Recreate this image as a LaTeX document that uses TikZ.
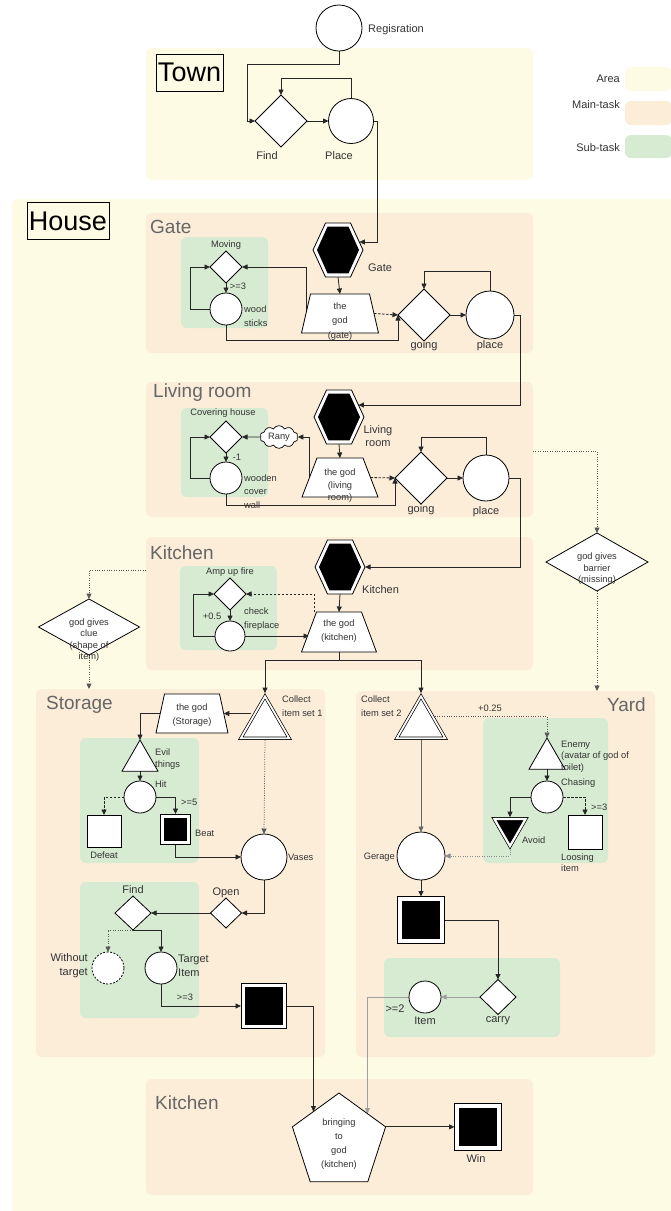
\documentclass[tikz,border=0pt]{standalone}
\usepackage{fontspec}
\setmainfont{Liberation Sans}
\usetikzlibrary{arrows.meta,shapes.geometric,shapes.symbols,calc}
\pgfdeclarelayer{bg}
\pgfdeclarelayer{links}
\pgfsetlayers{bg,links,main}

\definecolor{areaC}{HTML}{FDFBE3}
\definecolor{mainC}{HTML}{FCEDD9}
\definecolor{subC}{HTML}{D6EBD1}
\definecolor{txtC}{HTML}{333333}
\definecolor{ttlC}{HTML}{666666}

% black hexagon with a white ring, drawn inside a hexnode box
\newcommand\drawhex[1]{%
  \draw[line width=0.8pt, fill=white] ($(#1)+(-25,0)$) -- ($(#1)+(-12.5,-27)$) -- ($(#1)+(12.5,-27)$) -- ($(#1)+(25,0)$) -- ($(#1)+(12.5,27)$) -- ($(#1)+(-12.5,27)$) -- cycle;
  \fill[black] ($(#1)+(-21,0)$) -- ($(#1)+(-10.5,-23.3)$) -- ($(#1)+(10.5,-23.3)$) -- ($(#1)+(21,0)$) -- ($(#1)+(10.5,23.3)$) -- ($(#1)+(-10.5,23.3)$) -- cycle;
}
% trapezoid around a node: half bottom width, half top width, half height
\newcommand\drawtrap[4]{%
  \draw[line width=0.8pt, fill=white] ($(#1)+(-#2,#4)$) -- ($(#1)+(#2,#4)$) -- ($(#1)+(#3,-#4)$) -- ($(#1)+(-#3,-#4)$) -- cycle;
}

\begin{document}
\begin{tikzpicture}[x=1pt,y=-1pt,
  zone/.style={rectangle, rounded corners=6pt, inner sep=0, outer sep=0},
  area/.style={zone, fill=areaC},
  maintask/.style={zone, fill=mainC},
  subtask/.style={zone, fill=subC},
  conn/.style={draw=black!85, line width=0.8pt, -{Triangle[length=5.5pt,width=5pt]}},
  dashconn/.style={conn, dash pattern=on 2.5pt off 1.5pt},
  dotconn/.style={conn, draw=black!65, line width=0.75pt, dash pattern=on 1pt off 1.4pt},
  grayconn/.style={conn, draw=gray!75},
  circ/.style={circle, draw, line width=0.8pt, fill=white, inner sep=0, outer sep=0},
  diam/.style={diamond, draw, line width=0.8pt, fill=white, inner sep=0, outer sep=0},
  trapnode/.style={rectangle, inner sep=0, outer sep=0},
  tri/.style={regular polygon, regular polygon sides=3, draw, line width=0.8pt, fill=white, inner sep=0, outer sep=0},
  col/.style={tri, line width=0.7pt, double=white, double distance=1.8pt, minimum size=56, outer sep=1.6pt},
  avoidtri/.style={tri, shape border rotate=180, minimum size=36, line width=0.7pt, double=white, double distance=2.2pt, fill=black, outer sep=1.8pt},
  sq/.style={rectangle, draw, line width=0.8pt, fill=white, inner sep=0, outer sep=0},
  blacksq/.style={rectangle, draw=black, line width=0.8pt, double=white, double distance=3.5pt, fill=black, inner sep=0, outer sep=2.5pt},
  pent/.style={regular polygon, regular polygon sides=5, minimum size=98, draw, line width=0.8pt, fill=white, inner sep=0, outer sep=0},
  hexnode/.style={rectangle, minimum width=50, minimum height=54, inner sep=0, outer sep=0},
  lblS/.style={font=\fontsize{9.3}{#1}\selectfont, text=txtC, inner sep=0},
  lblS/.default=12,
  lblM/.style={font=\fontsize{11}{#1}\selectfont, text=txtC, inner sep=0},
  lblM/.default=13,
  ttl/.style={font=\fontsize{19}{22}\selectfont, text=ttlC, inner sep=0, anchor=west},
  bigbox/.style={draw, line width=0.7pt, font=\fontsize{27}{30}\selectfont, text=black, inner xsep=2pt, inner ysep=0pt, minimum height=37}
]
\useasboundingbox (0,0) rectangle (670,1211);

% ---------- areas ----------
\begin{pgfonlayer}{bg}
\fill[white] (0,0) rectangle (670,1211);
\node[area, minimum width=387, minimum height=132] (townArea) at (339.5,114) {};
\node[area, minimum width=662, minimum height=1020] (houseArea) at (343,709) {};
\node[maintask, minimum width=387, minimum height=140] (gateArea) at (339.5,283) {};
\node[maintask, minimum width=387, minimum height=135] (livingArea) at (339.5,449.5) {};
\node[maintask, minimum width=387, minimum height=133] (kitchenArea) at (339.5,603.5) {};
\node[maintask, minimum width=289, minimum height=368] (storageArea) at (180.5,873) {};
\node[maintask, minimum width=299, minimum height=366] (yardArea) at (505.5,874) {};
\node[maintask, minimum width=387, minimum height=116] (kitchenEndArea) at (339.5,1137) {};
\node[subtask, minimum width=87, minimum height=91] (subMoving) at (224.5,282.5) {};
\node[subtask, minimum width=87, minimum height=89] (subCover) at (224.5,452.5) {};
\node[subtask, minimum width=97, minimum height=84] (subFire) at (228.5,608) {};
\node[subtask, minimum width=119, minimum height=125] (subEvil) at (139.5,800.5) {};
\node[subtask, minimum width=119, minimum height=136] (subFind) at (139.5,950) {};
\node[subtask, minimum width=125, minimum height=145] (subEnemy) at (545.5,790.5) {};
\node[subtask, minimum width=176, minimum height=79] (subCarry) at (472,997.5) {};
% legend
\node[area, minimum width=47, minimum height=24] (lgArea) at (648.5,79) {};
\node[maintask, minimum width=47, minimum height=24] (lgMain) at (648.5,113) {};
\node[subtask, minimum width=47, minimum height=23] (lgSub) at (648.5,146.5) {};
\end{pgfonlayer}

\node[lblM, anchor=east] (lgAreaT) at (620,79) {Area};
\node[lblM, anchor=east] (lgMainT) at (620,105) {Main-task};
\node[lblM, anchor=east] (lgSubT) at (620,148) {Sub-task};

% ---------- Town ----------
\node[bigbox] (townT) at (189.5,72.5) {Town};
\node[circ, minimum size=46] (reg) at (339,28) {};
\node[lblM, anchor=west] (regT) at (368,30) {Regisration};
\node[diam, minimum width=52, minimum height=52] (findT) at (281,121) {};
\node[circ, minimum size=45] (placeT) at (351,121) {};
\node[lblM] (findTL) at (267,156) {Find};
\node[lblM] (placeTL) at (339,156) {Place};

% ---------- House ----------
\node[bigbox] (houseT) at (68,221) {House};

% Gate
\node[ttl] (gateTtl) at (150,227) {Gate};
\node[lblS] (movL) at (226,245) {Moving};
\node[diam, minimum width=32, minimum height=32] (movD) at (226,267) {};
\node[lblS] (ge3a) at (238,286) {>=3};
\node[circ, minimum size=32] (woodC) at (226,309) {};
\node[lblS=14, anchor=west, align=left] (woodL) at (244,316) {wood\\sticks};
\node[hexnode] (gateHex) at (338,250) {};
\drawhex{gateHex}
\node[lblM] (gateHL) at (380,268) {Gate};
\node[trapnode, minimum width=68, minimum height=39] (godG) at (340,313.5) {};
\drawtrap{godG}{38.5}{29.5}{19.5}
\node[lblS=14.5, align=center] (godGL) at (340,321.5) {the\\god\\(gate)};
\node[diam, minimum width=52, minimum height=52] (goingG) at (424,315) {};
\node[lblM] (goingGL) at (424,346) {going};
\node[circ, minimum size=48] (placeG) at (490,315) {};
\node[lblM] (placeGL) at (490,346) {place};

% Living room
\node[ttl] (livTtl) at (153,393) {Living room};
\node[lblS] (covL) at (223,413) {Covering house};
\node[diam, minimum width=32, minimum height=32] (covD) at (226,437) {};
\node[lblS] (m1) at (237,457) {-1};
\node[circ, minimum size=32] (wallC) at (226,478) {};
\node[lblS=13.5, anchor=west, align=left] (wallL) at (244,491.5) {wooden\\cover\\wall};
\node[cloud, cloud puffs=10, cloud puff arc=120, aspect=1.8, draw, line width=0.7pt, fill=white, inner sep=0.5pt, minimum width=38, minimum height=22, font=\fontsize{9.3}{11}\selectfont, text=txtC] (rany) at (279,437) {Rany};
\node[hexnode] (livHex) at (339,417) {};
\drawhex{livHex}
\node[lblM=13, align=center] (livHL) at (378,436.5) {Living\\room};
\node[trapnode, minimum width=61, minimum height=39] (godL) at (340,477.5) {};
\drawtrap{godL}{38}{23}{19.5}
\node[lblS=12.5, align=center] (godLL) at (340,486) {the god\\(living\\room)};
\node[diam, minimum width=52, minimum height=52] (goingL) at (421,478) {};
\node[lblM] (goingLL) at (421,510) {going};
\node[circ, minimum size=46] (placeL) at (486,478) {};
\node[lblM] (placeLL) at (486,512) {place};

% Kitchen
\node[ttl] (kitTtl) at (150,553) {Kitchen};
\node[lblS] (ampL) at (230,572) {Amp up fire};
\node[diam, minimum width=32, minimum height=32] (ampD) at (230,594) {};
\node[lblS] (p05) at (212,616) {+0.5};
\node[circ, minimum size=30] (fireC) at (230,636) {};
\node[lblS=14, anchor=west, align=left] (fireL) at (244,619) {check\\fireplace};
\node[hexnode] (kitHex) at (340,567) {};
\drawhex{kitHex}
\node[lblM, anchor=west] (kitHL) at (362,590) {Kitchen};
\node[trapnode, minimum width=60, minimum height=40] (godK) at (339,632) {};
\drawtrap{godK}{37.5}{22.5}{20}
\node[lblS=14, align=center] (godKL) at (339,631) {the god\\(kitchen)};
\node[diam, minimum width=101, minimum height=56] (clue) at (89,627) {};
\node[lblS=11.3, align=center] (clueL) at (89,640) {god gives\\clue\\(shape of\\item)};
\node[diam, minimum width=102, minimum height=58] (barrier) at (597,562) {};
\node[lblS=11.5, align=center] (barL) at (597,569) {god gives\\barrier\\(missing)};

% Storage
\node[ttl] (stoTtl) at (46,705) {Storage};
\node[col] (col1) at (265,724.3) {};
\node[lblS=14, anchor=west, align=left] (col1L) at (282,706) {Collect\\item set 1};
\node[trapnode, minimum width=63.5, minimum height=39] (godS) at (192,713.5) {};
\drawtrap{godS}{36}{27.5}{19.5}
\node[lblS=14, align=center] (godSL) at (192,715) {the god\\(Storage)};
\node[tri, minimum size=41.6] (evilT) at (140,760.8) {};
\node[lblS=12, anchor=west, align=left] (evilL) at (155,759) {Evil\\things};
\node[circ, minimum size=32] (hitC) at (140,797) {};
\node[lblS, anchor=west] (hitL) at (155,784) {Hit};
\node[sq, minimum width=34, minimum height=32] (defeat) at (104,831) {};
\node[lblS] (defeatL) at (104,855) {Defeat};
\node[lblS, anchor=west] (ge5) at (181,802) {>=5};
\node[blacksq, minimum size=26] (beat) at (175.5,829.5) {};
\node[lblS, anchor=west] (beatL) at (195,833) {Beat};
\node[circ, minimum size=46] (vases) at (264,857) {};
\node[lblS, anchor=west] (vasesL) at (288,857) {Vases};
\node[lblM] (openL) at (226,893) {Open};
\node[diam, minimum width=31, minimum height=30] (openD) at (226,913) {};
\node[lblM] (findL) at (133,890) {Find};
\node[diam, minimum width=36, minimum height=34] (findD) at (133,913) {};
\node[circ, minimum size=32, dash pattern=on 2pt off 1.5pt] (noTarget) at (108,968) {};
\node[circ, minimum size=32] (target) at (161,968) {};
\node[lblM=14, anchor=east, align=right] (noTL) at (88,966) {Without\\target};
\node[lblM=14, anchor=west, align=left] (targetL) at (178,966) {Target\\Item};
\node[lblS] (ge3b) at (185,997) {>=3};
\node[blacksq, minimum size=41] (item1) at (264,1006) {};

% Yard
\node[ttl, anchor=east] (yardTtl) at (646,705) {Yard};
\node[col] (col2) at (421,724.3) {};
\node[lblS=14, anchor=west, align=left] (col2L) at (361,706) {Collect\\item set 2};
\node[lblS] (p025) at (490,708) {+0.25};
\node[tri, minimum size=41.6] (enemyT) at (547,758.8) {};
\node[lblS=11.5, anchor=west, align=left] (enemyL) at (561,756.5) {Enemy\\(avatar of god of\\toilet)};
\node[circ, minimum size=32] (chaseC) at (547,797) {};
\node[lblS, anchor=west] (chaseL) at (561,783) {Chasing};
\node[avoidtri] (avoid) at (510,828) {};
\node[lblS, anchor=west] (avoidL) at (522,840) {Avoid};
\node[lblS, anchor=west] (ge3c) at (591,807) {>=3};
\node[sq, minimum size=34] (loose) at (585,832) {};
\node[lblS=11, anchor=west, align=left] (looseL) at (561,862.5) {Loosing\\item};
\node[circ, minimum size=48] (gerage) at (421,856) {};
\node[lblS, anchor=east] (gerageL) at (395,857) {Gerage};
\node[blacksq, minimum size=42] (item2) at (421,920) {};
\node[diam, minimum width=36, minimum height=35] (carryD) at (498,997) {};
\node[lblM] (carryL) at (498,1021) {carry};
\node[circ, minimum size=32] (itemC) at (425,997) {};
\node[lblM] (itemL) at (425,1021) {Item};
\node[lblM] (ge2) at (395,1009) {>=2};

% Final kitchen
\node[ttl] (kitEndTtl) at (155,1103) {Kitchen};
\node[pent] (bring) at (339,1142) {};
\node[lblS=14, align=center] (bringL) at (339,1144) {bringing\\to\\god\\(kitchen)};
\node[blacksq, minimum size=42] (win) at (478,1127) {};
\node[lblM] (winL) at (476,1158) {Win};

% ---------- connectors ----------
\begin{pgfonlayer}{links}
% town
\draw[conn] (reg.south) -- ++(0,13) -| ([xshift=-8pt]findT.west) -- (findT.west);
\draw[conn] (findT) -- (placeT);
\draw[conn] (placeT.north) -- ++(0,-20) -| (findT.north);
\draw[conn] (placeT.east) -- ++(4,0) |- ($(gateHex)+(21.3,-8)$);
% gate
\draw[conn] (woodC.west) -- ++(-20,0) |- (movD.west);
\draw[conn] (movD.south) -- (woodC.north);
\draw[conn] (godG.west) |- (movD.east);
\draw[dashconn] (godG.east) -- (goingG.west);
\draw[conn] (woodC.south) -- ++(0,15) -| (goingG.west);
\draw[conn] (gateHex.south) -- (godG.north);
\draw[conn] (goingG) -- (placeG);
\draw[conn] (placeG.north) -- ++(0,-20) -| (goingG.north);
\draw[conn] (placeG.east) -- ++(6,0) |- ($(livHex)+(19.4,-12)$);
% living room
\draw[conn] (wallC.west) -- ++(-20,0) |- (covD.west);
\draw[conn] (covD.south) -- (wallC.north);
\draw[conn] (rany.west) -- (covD.east);
\draw[conn] (godL.west) |- (rany.east);
\draw[dashconn] (godL.east) -- (goingL.west);
\draw[conn] (wallC.south) -- ++(0,11) -| (goingL.west);
\draw[conn] (livHex.south) -- (godL.north);
\draw[conn] (goingL) -- (placeL);
\draw[conn] (placeL.north) -- ++(0,-18) -| (goingL.north);
\draw[conn] (placeL.east) -- ++(11,0) |- (kitHex.east);
\draw[dotconn] ([yshift=-69pt]livingArea.north east) -| (barrier.north);
\draw[dotconn] (barrier.south) -- (barrier.south |- yardArea.north);
% kitchen
\draw[conn] (fireC.west) -- ++(-22,0) |- (ampD.west);
\draw[conn] (ampD.south) -- (fireC.north);
\draw[conn] (fireC.east) -- (fireC.east -| godK.west);
\draw[dashconn] ([xshift=5pt]godK.north west) |- (ampD.east);
\draw[conn] (kitHex.south) -- (godK.north);
\draw[conn] (godK.south) -- ++(0,8) -| (col1.north);
\draw[conn] (godK.south) -- ++(0,8) -| (col2.north);
\draw[dotconn] ([yshift=-33pt]kitchenArea.north west) -| (clue.north);
\draw[dotconn] (clue.south) -- (clue.south |- storageArea.north);
% storage
\draw[conn] (col1.150 |- godS.east) -- (godS.east);
\draw[conn] (godS.west) -| (evilT.north);
\draw[conn] (evilT.south) -- (hitC.north);
\draw[dashconn] (hitC.west) -| (defeat.north);
\draw[conn] (hitC.east) -| (beat.north);
\draw[conn] (beat.south) |- (vases.west);
\draw[dotconn] (col1.south) -- (vases.north);
\draw[conn] (vases.south) |- (openD.east);
\draw[conn] (openD) -- (findD);
\draw[dotconn] (findD.south) -| (noTarget.north);
\draw[conn] (findD.south) -| (target.north);
\draw[conn] (target.south) |- (item1.west);
\draw[conn] (item1.east) -| (bring.130);
% yard
\draw[dotconn] (col2.30) -| (enemyT.north);
\draw[conn] (enemyT.south) -- (chaseC.north);
\draw[conn] (chaseC.west) -| (avoid.north);
\draw[dashconn] (chaseC.east) -| (loose.north);
\draw[grayconn, draw=black!60, line width=0.7pt] (col2.south) -- (gerage.north);
\draw[dotconn, draw=black!45] (avoid.south) |- (gerage.east);
\draw[conn] (gerage.south) -- (item2.north);
\draw[conn] (item2.east) -| (carryD.north);
\draw[grayconn] (carryD) -- (itemC);
\draw[grayconn] (itemC.west) -| (bring.45);
% final
\draw[conn] (bring.18) -- (bring.18 -| win.west);
\end{pgfonlayer}
\end{tikzpicture}
\end{document}
